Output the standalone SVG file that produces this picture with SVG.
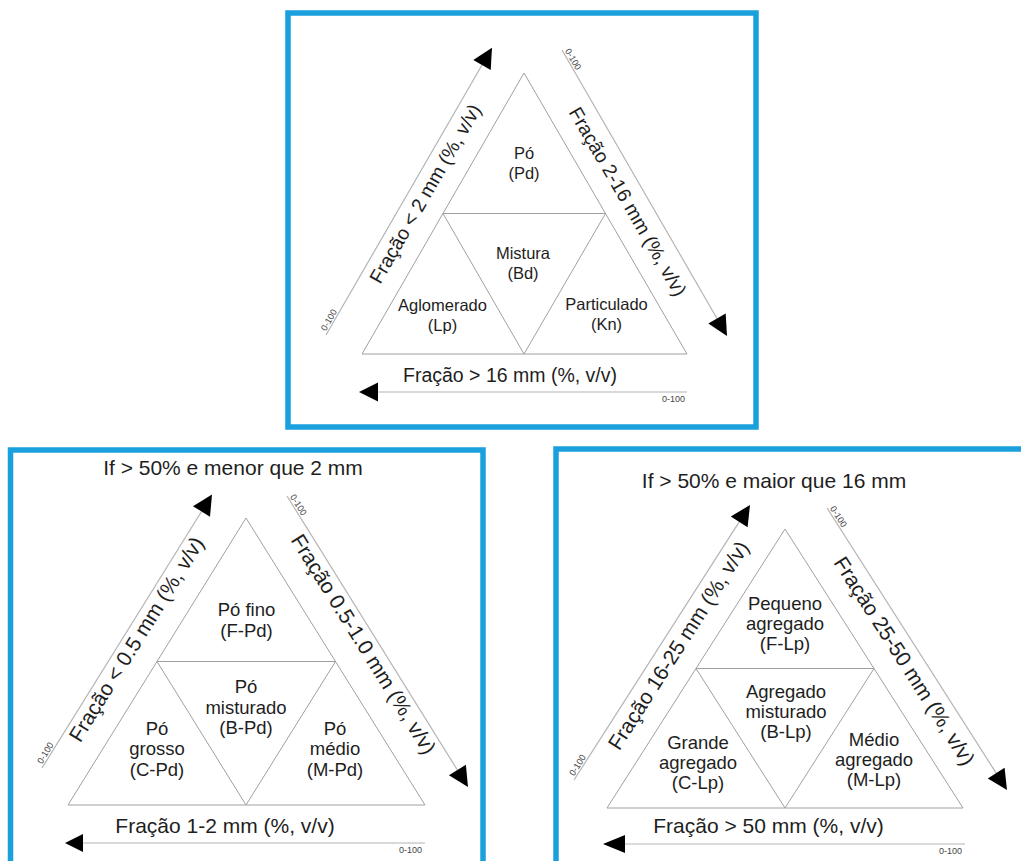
<svg xmlns="http://www.w3.org/2000/svg" width="1021" height="861" viewBox="0 0 1021 861">
<style>
.panel{fill:none;stroke:#1aa0dc;stroke-width:5.5}
.tri{fill:none;stroke:#a0a0a0;stroke-width:1}
.axis{fill:none;stroke:#b4b4b4;stroke-width:1.2}
.head{fill:#000;stroke:none}
text{font-family:"Liberation Sans",Arial,Helvetica,sans-serif;fill:#1e1e1e}
.lt{font-size:16.5px;text-anchor:middle}
.ll{font-size:18.5px;text-anchor:middle}
.at{font-size:19.5px;text-anchor:middle}
.al{font-size:21px;text-anchor:middle}
.sc{font-size:9px;fill:#444}
</style>
<rect width="1021" height="861" fill="#fff"/>

<!-- TOP PANEL -->
<g id="panel-top">
<rect class="panel" x="288" y="13" width="468" height="414"/>
<g id="top-triangle">
<polygon class="tri" points="524,73 362,354 687,354"/>
<polyline class="tri" points="443,213.5 605.5,213.5"/>
<polyline class="tri" points="443,213.5 524,354 605.5,213.5"/>
</g>
<g id="top-Pd"><text class="lt" x="524" y="159">Pó</text><text class="lt" x="524" y="179">(Pd)</text></g>
<g id="top-Bd"><text class="lt" x="523" y="259">Mistura</text><text class="lt" x="523" y="279">(Bd)</text></g>
<g id="top-Lp"><text class="lt" x="442.5" y="311">Aglomerado</text><text class="lt" x="442.5" y="331">(Lp)</text></g>
<g id="top-Kn"><text class="lt" x="606.5" y="310">Particulado</text><text class="lt" x="606.5" y="330">(Kn)</text></g>
<g id="top-axes">
<line class="axis" x1="326" y1="335" x2="482" y2="65"/>
<polygon class="head" points="492,47.7 490.7,70 473.3,60"/>
<line class="axis" x1="562" y1="50" x2="717" y2="318.5"/>
<polygon class="head" points="727,336 725.7,313.5 708.3,323.5"/>
<line class="axis" x1="687" y1="392" x2="378" y2="392"/>
<polygon class="head" points="359,392 378,382.5 378,401.5"/>
</g>
<text class="at" transform="translate(431,197) rotate(-60)">Fração &lt; 2 mm (%, v/v)</text>
<text class="at" transform="translate(622,205) rotate(60)">Fração 2-16 mm (%, v/v)</text>
<text class="at" x="510" y="382">Fração &gt; 16 mm (%, v/v)</text>
<text class="sc" transform="translate(326,335) rotate(-60)" x="3" y="-2">0-100</text>
<text class="sc" transform="translate(562,50) rotate(60)" x="2" y="-2">0-100</text>
<text class="sc" x="685" y="402" text-anchor="end">0-100</text>
</g>

<!-- LOWER LEFT PANEL -->
<g id="panel-left">
<rect class="panel" x="10.5" y="450" width="472.5" height="420"/>
<text class="al" x="233" y="475">If &gt; 50% e menor que 2 mm</text>
<g id="left-triangle">
<polygon class="tri" points="246,518 68,805 425,805"/>
<polyline class="tri" points="157,661.5 335.5,661.5"/>
<polyline class="tri" points="157,661.5 246,805 335.5,661.5"/>
</g>
<g id="left-FPd"><text class="ll" x="246.5" y="616">Pó fino</text><text class="ll" x="246.5" y="637">(F-Pd)</text></g>
<g id="left-BPd"><text class="ll" x="246" y="693">Pó</text><text class="ll" x="246" y="714">misturado</text><text class="ll" x="246" y="734">(B-Pd)</text></g>
<g id="left-CPd"><text class="ll" x="157" y="735">Pó</text><text class="ll" x="157" y="755">grosso</text><text class="ll" x="157" y="776">(C-Pd)</text></g>
<g id="left-MPd"><text class="ll" x="335" y="735">Pó</text><text class="ll" x="335" y="755">médio</text><text class="ll" x="335" y="776">(M-Pd)</text></g>
<g id="left-axes">
<line class="axis" x1="42" y1="768" x2="201.5" y2="511.5"/>
<polygon class="head" points="212,494.5 210,516.8 193,506.2"/>
<line class="axis" x1="287" y1="496" x2="457.4" y2="770"/>
<polygon class="head" points="468,787 465.9,764.7 448.9,775.3"/>
<line class="axis" x1="425" y1="843" x2="83" y2="843"/>
<polygon class="head" points="65,843 83,834 83,852"/>
</g>
<text class="al" transform="translate(142.5,643) rotate(-58.2)">Fração &lt; 0.5 mm (%, v/v)</text>
<text class="al" transform="translate(357.5,648) rotate(58.1)">Fração 0.5-1.0 mm (%, v/v)</text>
<text class="al" x="225" y="833">Fração 1-2 mm (%, v/v)</text>
<text class="sc" transform="translate(42,768) rotate(-58.2)" x="3" y="-2">0-100</text>
<text class="sc" transform="translate(287,496) rotate(58.1)" x="2" y="-2">0-100</text>
<text class="sc" x="422" y="853" text-anchor="end">0-100</text>
</g>

<!-- LOWER RIGHT PANEL -->
<g id="panel-right">
<rect class="panel" x="556" y="449" width="480" height="420"/>
<text class="al" x="774" y="488">If &gt; 50% e maior que 16 mm</text>
<g id="right-triangle">
<polygon class="tri" points="785,529 607,808 963,808"/>
<polyline class="tri" points="696,668.5 874,668.5"/>
<polyline class="tri" points="696,668.5 785,808 874,668.5"/>
</g>
<g id="right-FLp"><text class="ll" x="785" y="610">Pequeno</text><text class="ll" x="785" y="630">agregado</text><text class="ll" x="785" y="650">(F-Lp)</text></g>
<g id="right-BLp"><text class="ll" x="786" y="698">Agregado</text><text class="ll" x="786" y="718">misturado</text><text class="ll" x="786" y="738">(B-Lp)</text></g>
<g id="right-CLp"><text class="ll" x="698" y="749">Grande</text><text class="ll" x="698" y="769">agregado</text><text class="ll" x="698" y="789">(C-Lp)</text></g>
<g id="right-MLp"><text class="ll" x="874" y="745.5">Médio</text><text class="ll" x="874" y="766">agregado</text><text class="ll" x="874" y="786">(M-Lp)</text></g>
<g id="right-axes">
<line class="axis" x1="574" y1="780" x2="739.2" y2="521.9"/>
<polygon class="head" points="750,505 747.6,527.3 730.8,516.5"/>
<line class="axis" x1="827" y1="508" x2="996.2" y2="773.1"/>
<polygon class="head" points="1007,790 1004.6,767.7 987.8,778.5"/>
<line class="axis" x1="965" y1="844" x2="625" y2="844"/>
<polygon class="head" points="603,844 625,835 625,853"/>
</g>
<text class="al" transform="translate(684.5,649.3) rotate(-57.45)">Fração 16-25 mm (%, v/v)</text>
<text class="al" transform="translate(898.4,664.8) rotate(57.45)">Fração 25-50 mm (%, v/v)</text>
<text class="al" x="768.5" y="833">Fração &gt; 50 mm (%, v/v)</text>
<text class="sc" transform="translate(574,780) rotate(-57.45)" x="3" y="-2">0-100</text>
<text class="sc" transform="translate(827,508) rotate(57.45)" x="2" y="-2">0-100</text>
<text class="sc" x="962" y="854" text-anchor="end">0-100</text>
</g>
</svg>
